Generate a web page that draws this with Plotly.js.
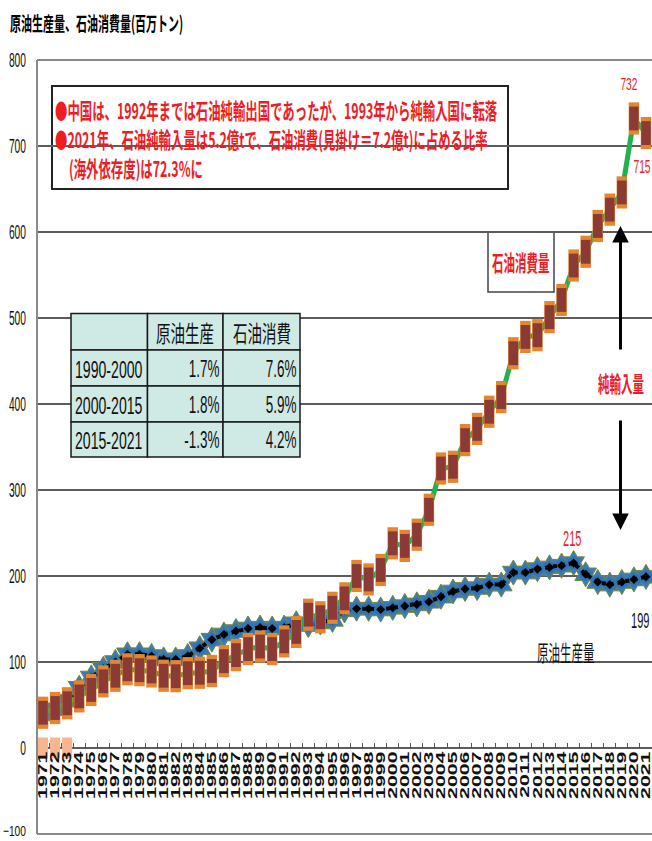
<!DOCTYPE html>
<html>
<head>
<meta charset="utf-8">
<script src="https://cdn.plot.ly/plotly-3.0.1.min.js"></script>
<style>
  html, body { margin: 0; padding: 0; background: #fff; }
  #chart { width: 652px; height: 841px; }
  /* tall, narrow lettering on the axes */
  g.xtick { transform-box: fill-box; transform-origin: center top; transform: scaleY(1.7); }
  g.ytick { transform-box: fill-box; transform-origin: right center; transform: scale(0.82, 1.6); }
  g.ytick:first-of-type { transform: translateY(-3px) scale(0.82, 1.2); }

  /* tall, narrow lettering on the annotations, keyed on each label style's font size */
  g.annotation { transform-box: fill-box; }
  g.annotation:has(text[style*="font-size: 11px"])   { transform-origin: left center;   transform: scale(1, 1.8); }
  g.annotation:has(text[style*="font-size: 12.4px"]) { transform-origin: left center;   transform: scale(1, 1.75); }
  g.annotation:has(text[style*="font-size: 11.5px"]) { transform-origin: center center; transform: scale(1, 1.9); }
  g.annotation:has(text[style*="font-size: 13px"])   { transform-origin: center center; transform: scale(0.78, 1.3); }
  g.annotation:has(text[style*="font-size: 12.9px"]) { transform-origin: right center;  transform: scale(0.8, 1.45); }
  g.annotation:has(text[style*="font-size: 13.5px"]) { transform-origin: center center; transform: scale(0.82, 1.7); }
  g.annotation:has(text[style*="font-size: 14.5px"]) { transform-origin: center center; transform: scale(1, 1.55); }
  g.annotation:has(text[style*="font-size: 15px"])   { transform-origin: left center;   transform: scale(0.94, 1.65); }
  g.annotation:has(text[style*="font-size: 15.5px"]) { transform-origin: right center;  transform: scale(0.87, 1.6); }
</style>
</head>
<body>
<div id="chart"></div>
<script>
// ---- data -------------------------------------------------------------
const years = ['1971','1972','1973','1974','1975','1976','1977','1978','1979','1980',
  '1981','1982','1983','1984','1985','1986','1987','1988','1989','1990',
  '1991','1992','1993','1994','1995','1996','1997','1998','1999','2000',
  '2001','2002','2003','2004','2005','2006','2007','2008','2009','2010',
  '2011','2012','2013','2014','2015','2016','2017','2018','2019','2020','2021'];

// 石油消費量 (百万トン)
const consumption = [41,46.5,52,60,67.5,77.5,84,91.5,90.5,89,
  84,83.5,87,87.5,89.5,101,108,115,118,115,
  124,135,155,152,163,174,200,196,207,238,
  235,248,277,325,327,358,371,391,408,459,
  478,480,501,521,561,577,607,626,646,732,715];

// 原油生産量 (百万トン)
const production = [39,45,55,70,82,92,100,109,109,107,
  103,103,107,116,126,132,136,139,140,139,
  140,145,143,146,149,160,162,162,161,163,
  165,167,170,176,182,185,186,190,190,204,
  204,208,210,212,215,202,193,190,193,196,199];

// 純輸入量 (純輸出国だった年)
const netImportYears = ['1971','1972','1973'];
const netImport = [0,0,0];

// 年平均伸び率の表
const tableHeader = ['', '原油生産', '石油消費'];
const tablePeriods = ['1990-2000', '2000-2015', '2015-2021'];
const tableProd = ['1.7%', '1.8%', '-1.3%'];
const tableCons = ['7.6%', '5.9%', '4.2%'];

const titleText = '原油生産量、石油消費量(百万トン)';
const noteLines = [
  '●中国は、1992年までは石油純輸出国であったが、1993年から純輸入国に転落',
  '●2021年、石油純輸入量は5.2億tで、石油消費(見掛け＝7.2億t)に占める比率',
  '(海外依存度)は72.3%に'
];

// ---- geometry helpers (pixel -> paper fraction) -------------------------
const W = 652, H = 841, ML = 37, MR = 0, MT = 60, MB = 7;
const PW = W - ML - MR, PH = H - MT - MB;
const px = v => (v - ML) / PW;
const py = v => (H - MB - v) / PH;
const yRange = [-100, 800];

const CJK = '"Noto Sans CJK JP", "Noto Sans CJK SC", sans-serif';
const LATIN = '"Liberation Sans", Arial, sans-serif';
const RED = '#EE1C25';

// ---- traces -----------------------------------------------------------
const traces = [
  { // production: blue star-like marks
    x: years, y: production, type: 'scatter', mode: 'markers',
    marker: { symbol: 'hexagram', size: 19, color: '#3C7BB6', line: { color: '#71883A', width: 1 } },
    hoverinfo: 'skip'
  },
  { x: years, y: production, type: 'scatter', mode: 'markers',
    marker: { symbol: 'hexagon', size: 14, color: '#2F74B5' }, hoverinfo: 'skip' },
  { // production: black dotted line with diamonds
    x: years, y: production, type: 'scatter', mode: 'lines+markers', name: '原油生産量',
    line: { color: '#000', width: 4, dash: 'dot' },
    marker: { symbol: 'diamond', size: 7, color: '#000' }
  },
  { // consumption: green line
    x: years, y: consumption, type: 'scatter', mode: 'lines', name: '石油消費量',
    line: { color: '#22B14C', width: 5 }
  },
  { // consumption marks: orange caps
    x: years, y: consumption, type: 'scatter', mode: 'markers',
    marker: { symbol: 'line-ns', size: 23, color: '#E3862F', line: { color: '#E3862F', width: 10.5 } },
    hoverinfo: 'skip'
  },
  { // consumption marks: brown body
    x: years, y: consumption, type: 'scatter', mode: 'markers',
    marker: { symbol: 'line-ns', size: 17, color: '#8B3A36', line: { color: '#8B3A36', width: 9.5 } },
    hoverinfo: 'skip'
  },
  { // net import markers at zero
    x: netImportYears, y: netImport, type: 'scatter', mode: 'markers',
    marker: { symbol: 'line-ns', size: 15, color: '#F7B68E', line: { color: '#F7B68E', width: 10 } },
    hoverinfo: 'skip'
  }
];

// ---- shapes -----------------------------------------------------------
const frame = { color: '#8a8a8a', width: 2 };
const shapes = [
  { type: 'line', xref: 'paper', yref: 'paper', x0: 0, x1: 0, y0: 0, y1: 1, line: frame, layer: 'above' },
  { type: 'line', xref: 'paper', yref: 'paper', x0: 0, x1: 1, y0: 1, y1: 1, line: frame, layer: 'above' },
  { type: 'line', xref: 'paper', yref: 'paper', x0: 0, x1: 1, y0: 0, y1: 0, line: frame, layer: 'above' },
  // note box
  { type: 'rect', xref: 'paper', yref: 'paper', x0: px(52), x1: px(508), y0: py(189), y1: py(86),
    fillcolor: '#fff', line: { color: '#222', width: 2 }, layer: 'between' },
  // 石油消費量 label box
  { type: 'rect', xref: 'paper', yref: 'paper', x0: px(488), x1: px(554), y0: py(292), y1: py(232),
    fillcolor: '#fff', line: { color: '#444', width: 1.5 }, layer: 'between' },
  // white backing behind the 純輸入量 and 原油生産量 labels
  { type: 'rect', xref: 'paper', yref: 'paper', x0: px(584), x1: 1, y0: py(410), y1: py(362),
    fillcolor: '#fff', line: { width: 0 }, layer: 'between' },
  { type: 'rect', xref: 'paper', yref: 'paper', x0: px(513), x1: px(618), y0: py(672), y1: py(634),
    fillcolor: '#fff', line: { width: 0 }, layer: 'between' }
];

// ---- annotations ------------------------------------------------------
const annotations = [];
function addText(a) {
  annotations.push(Object.assign({ showarrow: false, borderpad: 0, borderwidth: 0 }, a));
}

addText({ text: titleText, xref: 'paper', yref: 'paper', x: px(10), y: py(22),
  xanchor: 'left', yanchor: 'middle',
  font: { family: CJK, size: 11, color: '#000', weight: 'bold' } });

const noteY = [109.5, 139.5, 168];
const noteX = [55, 55, 68.5];
noteLines.forEach((t, i) => addText({ text: t, xref: 'paper', yref: 'paper',
  x: px(noteX[i]), y: py(noteY[i]), xanchor: 'left', yanchor: 'middle',
  font: { family: CJK, size: 12.4, color: RED, weight: 'bold' } }));

addText({ text: '石油消費量', xref: 'paper', yref: 'paper', x: px(521), y: py(262),
  xanchor: 'center', yanchor: 'middle', font: { family: CJK, size: 11.5, color: RED, weight: 'bold' } });

addText({ text: '純輸入量', xref: 'paper', yref: 'paper', x: px(621), y: py(383),
  xanchor: 'center', yanchor: 'middle',
  font: { family: CJK, size: 11.5, color: RED, weight: 'bold' } });

addText({ text: '原油生産量', xref: 'paper', yref: 'paper', x: px(565.5), y: py(652),
  xanchor: 'center', yanchor: 'middle',
  font: { family: CJK, size: 11.5, color: '#111' } });

// net-import double arrow (drawn as two arrows)
addText({ text: ' ', xref: 'paper', yref: 'paper', x: px(620.5), y: py(226), showarrow: true,
  ax: 0, ay: 132, arrowhead: 2, arrowsize: 1.1, arrowwidth: 3, arrowcolor: '#000', standoff: 0 });
addText({ text: ' ', xref: 'paper', yref: 'paper', x: px(620.5), y: py(530), showarrow: true,
  ax: 0, ay: -118, arrowhead: 2, arrowsize: 1.1, arrowwidth: 3, arrowcolor: '#000', standoff: 0 });

// value labels (x given as category index)
const numFont = (c, s) => ({ family: LATIN, size: s, color: c });
const iC20 = years.indexOf('2020'), iC21 = years.indexOf('2021'), iP15 = years.indexOf('2015');
addText({ text: String(consumption[iC20]), x: iC20, y: consumption[iC20], xref: 'x', yref: 'y',
  xanchor: 'center', yanchor: 'middle', xshift: -5, yshift: 34, font: numFont(RED, 13) });
addText({ text: String(consumption[iC21]), x: iC21, y: consumption[iC21], xref: 'x', yref: 'y',
  xanchor: 'right', yanchor: 'middle', xshift: 5, yshift: -33, font: numFont(RED, 12.9) });
addText({ text: String(production[iP15]), x: iP15, y: production[iP15], xref: 'x', yref: 'y',
  xanchor: 'center', yanchor: 'middle', xshift: -1, yshift: 25, font: numFont(RED, 13.5) });
addText({ text: String(production[iC21]), x: iC21, y: production[iC21], xref: 'x', yref: 'y',
  xanchor: 'center', yanchor: 'middle', xshift: -5, yshift: -44, font: numFont('#111', 13.5) });

// growth-rate table
const colEdges = [71, 147.5, 223, 300];
const rowEdges = [313.5, 350, 386, 422, 457];
const tableRows = [tableHeader].concat(tablePeriods.map((p, i) => [p, tableProd[i], tableCons[i]]));
tableRows.forEach((row, r) => {
  row.forEach((val, c) => {
    shapes.push({ type: 'rect', xref: 'paper', yref: 'paper',
      x0: px(colEdges[c]), x1: px(colEdges[c + 1]), y0: py(rowEdges[r + 1]), y1: py(rowEdges[r]),
      fillcolor: '#CFEAE5', line: { color: '#1a1a1a', width: 1.5 }, layer: 'above' });
    if (!val) return;
    const yc = py((rowEdges[r] + rowEdges[r + 1]) / 2);
    if (r === 0) {
      addText({ text: val, xref: 'paper', yref: 'paper', x: px((colEdges[c] + colEdges[c + 1]) / 2), y: yc,
        xanchor: 'center', yanchor: 'middle', font: { family: CJK, size: 14.5, color: '#111' } });
    } else if (c === 0) {
      addText({ text: val, xref: 'paper', yref: 'paper', x: px(colEdges[c] + 4), y: yc,
        xanchor: 'left', yanchor: 'middle', font: { family: LATIN, size: 15, color: '#111' } });
    } else {
      addText({ text: val, xref: 'paper', yref: 'paper', x: px(colEdges[c + 1] - 3), y: yc,
        xanchor: 'right', yanchor: 'middle', font: { family: LATIN, size: 15.5, color: '#111' } });
    }
  });
});

// ---- layout -----------------------------------------------------------
const layout = {
  width: W, height: H,
  margin: { l: ML, r: MR, t: MT, b: MB, pad: 0 },
  paper_bgcolor: '#fff', plot_bgcolor: '#fff',
  showlegend: false,
  xaxis: {
    type: 'category', categoryorder: 'array', categoryarray: years,
    range: [-0.5, years.length - 0.5], dtick: 1,
    anchor: 'free', position: (0 - yRange[0]) / (yRange[1] - yRange[0]),
    tickangle: -90, tickson: 'boundaries', ticks: 'inside', ticklen: 5, tickwidth: 1, tickcolor: '#555',
    showline: false, showgrid: false, zeroline: false,
    tickfont: { family: LATIN, size: 12.5, color: '#111', weight: 'bold' }
  },
  yaxis: {
    range: yRange, tick0: 0, dtick: 100,
    showgrid: true, gridcolor: '#5c5c5c', gridwidth: 1.3,
    zeroline: true, zerolinecolor: '#5c5c5c', zerolinewidth: 1.5,
    showline: false, ticks: '', ticklabelstandoff: 10, ticklabeloverflow: 'allow',
    tickfont: { family: LATIN, size: 12.5, color: '#111' }
  },
  shapes: shapes,
  annotations: annotations
};

Plotly.newPlot('chart', traces, layout, { staticPlot: true, displayModeBar: false });
</script>
</body>
</html>
